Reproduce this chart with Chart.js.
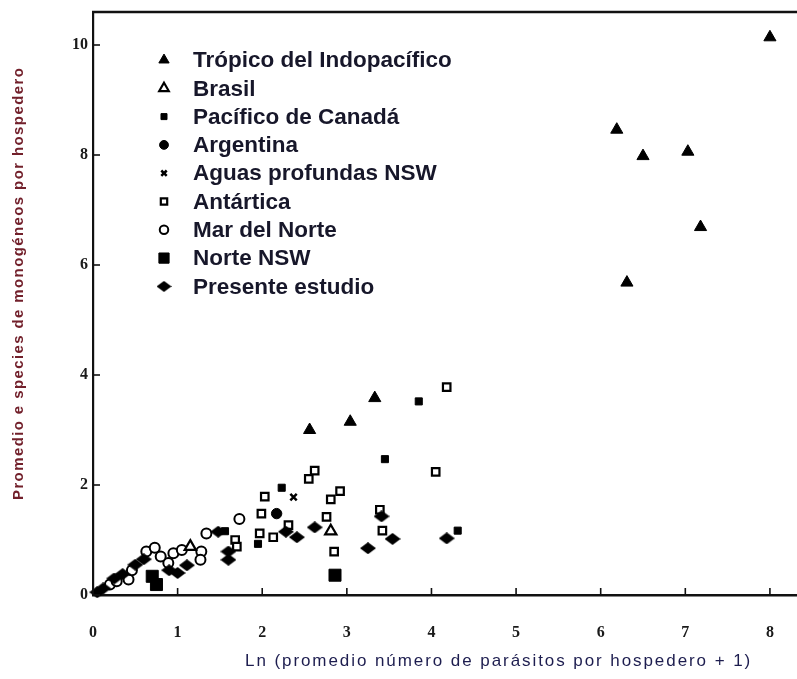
<!DOCTYPE html>
<html>
<head>
<meta charset="utf-8">
<script src="https://cdn.jsdelivr.net/npm/chart.js@4.4.1/dist/chart.umd.min.js"></script>
<style>
  html, body { margin: 0; padding: 0; background: #ffffff; }
  #wrap { width: 797px; height: 679px; }
</style>
</head>
<body>
<div id="wrap"><canvas id="c" width="797" height="679"></canvas></div>
<script>
// ---- series (x = Ln(mean parasites per host + 1), y = mean monogenean species per host)
const seriesNames = [
  'Trópico del Indopacífico', 'Brasil', 'Pacífico de Canadá', 'Argentina',
  'Aguas profundas NSW', 'Antártica', 'Mar del Norte', 'Norte NSW', 'Presente estudio'
];

const tropicoX = [8.00, 6.19, 6.50, 7.03, 7.18, 6.31, 2.56, 3.04, 3.33];
const tropicoY = [10.14, 8.46, 7.98, 8.06, 6.69, 5.68, 3.00, 3.15, 3.58];

const brasilX = [1.15, 2.81];
const brasilY = [0.88, 1.16];

const canadaX = [3.85, 3.45, 2.23, 4.31, 1.95, 1.56];
const canadaY = [3.52, 2.47, 1.95, 1.17, 0.93, 1.16];

const argentinaX = [2.17];
const argentinaY = [1.48];

const aguasX = [2.37];
const aguasY = [1.78];

const antarticaX = [4.18, 2.62, 2.55, 4.05, 2.92, 2.81, 2.03, 1.99, 2.76, 3.39, 3.42, 2.85, 2.31, 2.13, 1.97, 1.68, 1.70];
const antarticaY = [3.78, 2.26, 2.11, 2.24, 1.89, 1.74, 1.79, 1.48, 1.42, 1.55, 1.17, 0.79, 1.27, 1.05, 1.12, 1.00, 0.88];

const marNorteX = [0.20, 0.28, 0.42, 0.46, 0.63, 0.73, 0.95, 0.89, 1.28, 1.27, 1.34, 1.73, 1.05, 0.80];
const marNorteY = [0.19, 0.25, 0.28, 0.45, 0.79, 0.86, 0.76, 0.58, 0.79, 0.64, 1.12, 1.38, 0.82, 0.70];

const norteX = [0.70, 0.75, 2.86];
const norteY = [0.34, 0.19, 0.36];

const presenteX = [0.05, 0.12, 0.25, 0.35, 0.50, 0.60, 0.90, 1.00, 1.11, 1.48, 1.60, 1.60, 2.28, 2.41, 2.62, 3.25, 3.41, 3.54, 4.18];
const presenteY = [0.05, 0.12, 0.30, 0.38, 0.55, 0.65, 0.45, 0.40, 0.54, 1.15, 0.79, 0.64, 1.15, 1.05, 1.23, 0.85, 1.43, 1.02, 1.03];

const xTicks = [0, 1, 2, 3, 4, 5, 6, 7, 8];
const yTicks = [0, 2, 4, 6, 8, 10];

const xTitle = 'Ln (promedio número de parásitos por hospedero + 1)';
const yTitle = 'Promedio e species de monogéneos por hospedero';

// ---- marker styles
function makeDiamond(w, h) {
  const cv = document.createElement('canvas');
  cv.width = w; cv.height = h;
  const g = cv.getContext('2d');
  g.fillStyle = '#000';
  g.beginPath();
  g.moveTo(0, h / 2); g.lineTo(w / 2, 0); g.lineTo(w, h / 2); g.lineTo(w / 2, h);
  g.closePath(); g.fill();
  return cv;
}
const diamondImg = makeDiamond(16, 12);
const diamondLegendImg = makeDiamond(15, 11);

const styles = [
  { pointStyle: 'triangle', radius: 7, bg: '#000', border: '#000', bw: 1 },
  { pointStyle: 'triangle', radius: 6.5, bg: '#fff', border: '#000', bw: 2.2 },
  { pointStyle: 'rect', radius: 5, bg: '#000', border: '#000', bw: 1 },
  { pointStyle: 'circle', radius: 5.2, bg: '#000', border: '#000', bw: 1 },
  { pointStyle: 'crossRot', radius: 4.5, bg: '#000', border: '#000', bw: 2.5 },
  { pointStyle: 'rect', radius: 5.3, bg: '#fff', border: '#000', bw: 2.2 },
  { pointStyle: 'circle', radius: 5, bg: '#fff', border: '#000', bw: 2 },
  { pointStyle: 'rect', radius: 8.5, bg: '#000', border: '#000', bw: 1 },
  { pointStyle: diamondImg, radius: 7, bg: '#000', border: '#000', bw: 1 }
];

const xs = [tropicoX, brasilX, canadaX, argentinaX, aguasX, antarticaX, marNorteX, norteX, presenteX];
const ys = [tropicoY, brasilY, canadaY, argentinaY, aguasY, antarticaY, marNorteY, norteY, presenteY];

// draw order: open markers first, filled on top of them
const drawOrder = [5, 6, 1, 0, 2, 3, 4, 7, 8];

const datasets = seriesNames.map((name, i) => ({
  label: name,
  data: xs[i].map((x, k) => ({ x: x, y: ys[i][k] })),
  pointStyle: styles[i].pointStyle,
  pointRadius: styles[i].radius,
  pointBackgroundColor: styles[i].bg,
  pointBorderColor: styles[i].border,
  pointBorderWidth: styles[i].bw,
  showLine: false,
  clip: false,
  order: drawOrder.length - drawOrder.indexOf(i)
}));

// ---- frame, inward tick marks, legend and axis titles
const decorations = {
  id: 'decorations',
  afterDraw(chart) {
    const ctx = chart.ctx;
    const a = chart.chartArea;
    const sx = chart.scales.x, sy = chart.scales.y;
    ctx.save();
    ctx.strokeStyle = '#111';
    // top frame line
    ctx.lineWidth = 2.5;
    ctx.beginPath(); ctx.moveTo(a.left - 1, a.top); ctx.lineTo(a.right, a.top); ctx.stroke();
    // inward tick marks
    ctx.lineWidth = 1.6;
    xTicks.forEach(v => {
      const px = sx.getPixelForValue(v);
      ctx.beginPath(); ctx.moveTo(px, a.bottom); ctx.lineTo(px, a.bottom - 7); ctx.stroke();
    });
    yTicks.forEach(v => {
      const py = sy.getPixelForValue(v);
      ctx.beginPath(); ctx.moveTo(a.left, py); ctx.lineTo(a.left + 7, py); ctx.stroke();
    });

    // legend
    const rowY0 = 60, rowH = 28.3, markX = 164, textX = 193;
    ctx.font = 'bold 22.5px "Liberation Sans", Arial, sans-serif';
    ctx.textBaseline = 'middle';
    ctx.textAlign = 'left';
    seriesNames.forEach((name, i) => {
      const y = rowY0 + i * rowH;
      const s = styles[i];
      ctx.fillStyle = s.bg;
      ctx.strokeStyle = s.border;
      ctx.lineWidth = s.bw;
      Chart.helpers.drawPoint(ctx, {
        pointStyle: i === 8 ? diamondLegendImg : s.pointStyle,
        radius: s.radius * 0.85, rotation: 0, borderWidth: s.bw
      }, markX, y);
      ctx.fillStyle = '#17172a';
      ctx.fillText(name, textX, y + 1);
    });

    // axis titles, each fitted to its span
    function fitted(text, font, width) {
      ctx.font = font;
      ctx.letterSpacing = '0px';
      const w = ctx.measureText(text).width;
      ctx.letterSpacing = ((width - w) / (text.length - 1)).toFixed(2) + 'px';
    }
    ctx.textBaseline = 'middle';
    ctx.textAlign = 'left';
    fitted(xTitle, '17px "Liberation Sans", Arial, sans-serif', 505);
    ctx.fillStyle = '#1d1d4f';
    ctx.fillText(xTitle, 245, 661);

    ctx.save();
    ctx.translate(19, 284);
    ctx.rotate(-Math.PI / 2);
    fitted(yTitle, 'bold 15px "Liberation Sans", Arial, sans-serif', 432);
    ctx.fillStyle = '#72202b';
    ctx.fillText(yTitle, -216, 0);
    ctx.restore();

    ctx.restore();
  }
};

const tickFont = { family: '"Liberation Serif", "Times New Roman", serif', size: 16, weight: 'bold' };

new Chart(document.getElementById('c'), {
  type: 'scatter',
  data: { datasets: datasets },
  options: {
    responsive: false,
    devicePixelRatio: 1,
    animation: false,
    events: [],
    layout: { autoPadding: false, padding: { left: 0, right: 0, top: 12, bottom: 0 } },
    plugins: { legend: { display: false }, tooltip: { enabled: false }, title: { display: false } },
    scales: {
      x: {
        type: 'linear', min: 0, max: 8.32,
        afterBuildTicks: s => { s.ticks = xTicks.map(v => ({ value: v })); },
        afterFit: s => { s.height = 84; s.paddingLeft = 0; s.paddingRight = 0; },
        grid: { display: false, drawTicks: false },
        border: { display: true, color: '#111', width: 2.5 },
        ticks: { color: '#1a1a1a', font: tickFont, padding: 28, maxRotation: 0 }
      },
      y: {
        type: 'linear', min: 0, max: 10.6,
        afterBuildTicks: s => { s.ticks = yTicks.map(v => ({ value: v })); },
        afterFit: s => { s.width = 93; s.paddingTop = 0; s.paddingBottom = 0; },
        grid: { display: false, drawTicks: false },
        border: { display: true, color: '#111', width: 2.2 },
        ticks: { color: '#1a1a1a', font: tickFont, padding: 5 }
      }
    }
  },
  plugins: [decorations]
});
</script>
</body>
</html>
